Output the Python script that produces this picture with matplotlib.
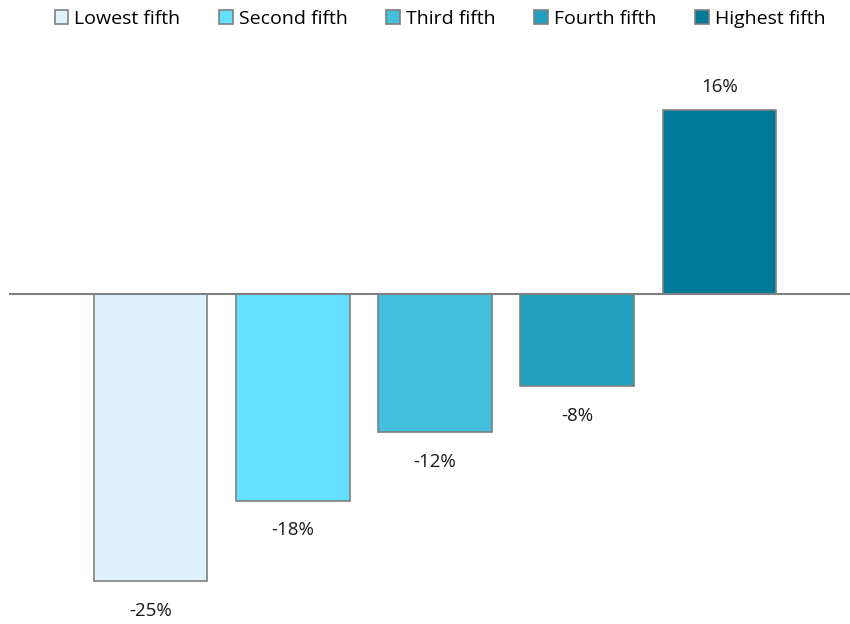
import matplotlib
matplotlib.use("Agg")
import matplotlib.pyplot as plt
from matplotlib.patches import Patch

categories = ["Lowest fifth", "Second fifth", "Third fifth", "Fourth fifth", "Highest fifth"]
values = [-25, -18, -12, -8, 16]
labels = ["-25%", "-18%", "-12%", "-8%", "16%"]
colors = ["#DDF2FD", "#66E0FF", "#44BFDE", "#22A0BF", "#007A99"]

plt.rcParams['font.family'] = ['Open Sans', 'DejaVu Sans']

fig = plt.figure(figsize=(8.5, 6.24), dpi=100)
ax = fig.add_axes([9/850, 0, 841/850, 564/624])
x = list(range(len(categories)))
ax.bar(x, values, width=0.8, color=colors, edgecolor="#808080", linewidth=1.2, zorder=2)
ax.set_xlim(-0.995, 4.917)
ax.set_ylim(-28.75, 20.38)
ax.axhline(0, color="#808080", linewidth=1.5, zorder=3)
for xi, v, lab in zip(x, values, labels):
    if v >= 0:
        ax.annotate(lab, (xi, v), xytext=(0, 10), textcoords="offset points",
                    ha="center", va="bottom", fontsize=13.5, color="#1a1a1a")
    else:
        ax.annotate(lab, (xi, v), xytext=(0, -15), textcoords="offset points",
                    ha="center", va="top", fontsize=13.5, color="#1a1a1a")
ax.axis("off")

handles = [Patch(facecolor=c, edgecolor="#808080", linewidth=1.2) for c in colors]
fig.legend(handles, categories, loc="upper right", bbox_to_anchor=(0.971, 1 - 10/624), ncol=5,
           frameon=False, fontsize=14, handlelength=0.7, handleheight=0.7,
           handletextpad=0.3, columnspacing=2.0, borderaxespad=0, borderpad=0)

fig.savefig("out.png", dpi=100)
